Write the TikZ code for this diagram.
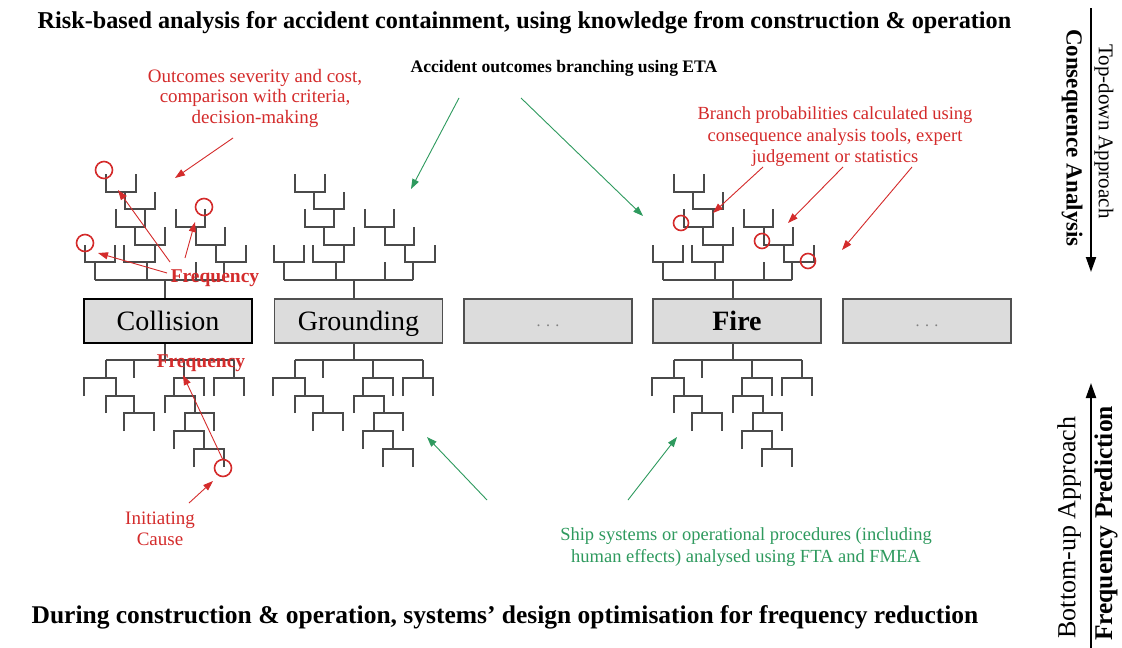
\documentclass[tikz,border=0pt]{standalone}
\usepackage{fontspec}
\setmainfont{Liberation Serif}
\usetikzlibrary{arrows.meta}
\definecolor{annred}{HTML}{D42B2B}
\definecolor{anngreen}{HTML}{2E9A5E}
\definecolor{treegray}{HTML}{4A4A4A}
\definecolor{boxfill}{HTML}{DCDCDC}
\definecolor{boxline}{HTML}{505050}
\tikzset{
  branch/.style={draw=treegray, line width=1.5pt},
  eventbox/.style={draw=boxline, fill=boxfill, line width=1.5pt, minimum width=168pt, minimum height=44pt, inner sep=0pt, text height=20pt, text depth=2pt, font=\fontsize{28}{30}\selectfont},
  dotsbox/.style={eventbox, text=gray, text height=10pt, text depth=0pt, font=\fontsize{16}{19}\selectfont},
  hilite/.style={draw=annred, line width=1.6pt},
  redarrow/.style={draw=annred, line width=0.9pt, -{Triangle[length=10pt,width=7pt]}},
  greenarrow/.style={draw=anngreen, line width=0.9pt, -{Triangle[length=10pt,width=7pt]}},
  vertarrow/.style={draw=black, line width=2pt, -{Triangle[length=15pt,width=10pt]}},
  redtext/.style={text=annred, font=\fontsize{18.5}{21}\selectfont, align=center, inner sep=0pt},
  greentext/.style={text=anngreen, font=\fontsize{18.5}{22}\selectfont, align=center, inner sep=0pt},
  freqtext/.style={text=annred, font=\bfseries\fontsize{19.5}{22}\selectfont, inner sep=0pt, anchor=base},
  headline/.style={font=\bfseries\fontsize{24.2}{28}\selectfont, inner sep=0pt, anchor=base},
}
\newcommand\TopTree[1]{%
\begin{scope}[shift={(#1,0)}]
\draw[branch] (0,299) -- (0,280) (-70,280) -- (59,280)
  (-70,280) -- (-70,262) (-80,245) -- (-80,262) -- (-50,262) -- (-50,245)
  (-18,280) -- (-18,262) (-41,245) -- (-41,262) -- (-10,262) -- (-10,245)
  (-30,227) -- (-30,245) -- (0,245) -- (0,227)
  (-49,209) -- (-49,227) -- (-20,227) -- (-20,209)
  (-40,192) -- (-40,209) -- (-10,209) -- (-10,192)
  (-59,174) -- (-59,192) -- (-29,192) -- (-29,174)
  (31,280) -- (31,262)
  (59,280) -- (59,262) (51,245) -- (51,262) -- (81,262) -- (81,245)
  (31,227) -- (31,245) -- (60,245) -- (60,227)
  (11,209) -- (11,227) -- (40,227) -- (40,209);
\end{scope}}
\newcommand\BottomTree[1]{%
\begin{scope}[shift={(#1,0)}]
\draw[branch] (0,343) -- (0,360) (-59,360) -- (69,360)
  (-59,360) -- (-59,378) (-81,396) -- (-81,378) -- (-49,378) -- (-49,396)
  (-59,413) -- (-59,396) -- (-31,396) -- (-31,413)
  (-41,431) -- (-41,413) -- (-11,413) -- (-11,431)
  (-31,360) -- (-31,378)
  (19,360) -- (19,378) (9,396) -- (9,378) -- (39,378) -- (39,396)
  (0,413) -- (0,396) -- (30,396) -- (30,413)
  (20,431) -- (20,413) -- (49,413) -- (49,431)
  (9,449) -- (9,431) -- (39,431) -- (39,449)
  (29,467) -- (29,449) -- (59,449) -- (59,467)
  (69,360) -- (69,378) (49,396) -- (49,378) -- (79,378) -- (79,396);
\end{scope}}
\begin{document}
\begin{tikzpicture}[x=1pt,y=-1pt]
\useasboundingbox (0,0) rectangle (1122,648);
\fill[white] (0,0) rectangle (1122,648);

% event trees
\TopTree{165}\TopTree{354}\TopTree{733}
\BottomTree{165}\BottomTree{354}\BottomTree{733}

% accident boxes
\node[eventbox, draw=black, line width=2.5pt] (collision) at (168,321) {Collision};
\node[eventbox] (grounding) at (358.5,321) {Grounding};
\node[dotsbox] (dotsA) at (548,321) {. . .};
\node[eventbox, font=\bfseries\fontsize{28}{30}\selectfont] (fire) at (737,321) {Fire};
\node[dotsbox] (dotsB) at (927,321) {. . .};

% highlighted outcomes
\draw[hilite] (104,170) circle[radius=8.5];
\draw[hilite] (85,243) circle[radius=8.5];
\draw[hilite] (204,207) circle[radius=8.5];
\draw[hilite] (223,468) circle[radius=8.5];
\draw[hilite] (681,223) circle[radius=7.5];
\draw[hilite] (762,241) circle[radius=7.5];
\draw[hilite] (808,261) circle[radius=7.5];

% texts
\node[headline] (title) at (524.5,28) {Risk-based analysis for accident containment, using knowledge from construction \& operation};
\node[headline, font=\bfseries\fontsize{25.5}{28}\selectfont] (footer) at (505,623) {During construction \& operation, systems' design optimisation for frequency reduction};
\node[font=\bfseries\fontsize{17.6}{20}\selectfont, inner sep=0pt, anchor=base] (eta) at (564,72) {Accident outcomes branching using ETA};
\node[redtext, font=\fontsize{19}{20.5}\selectfont] (outcomes) at (255,98) {Outcomes severity and cost,\\comparison with criteria,\\decision-making};
\node[redtext, font=\fontsize{18.5}{21.5}\selectfont] (branchprob) at (835,137) {Branch probabilities calculated using\\consequence analysis tools, expert\\judgement or statistics};
\node[greentext] (shipsys) at (746,547) {Ship systems or operational procedures (including\\human effects) analysed using FTA and FMEA};
\node[redtext, font=\fontsize{19}{21}\selectfont] (initcause) at (160,529) {Initiating\\Cause};
\node[freqtext] (freqtop) at (215,282) {Frequency};
\node[freqtext] (freqbot) at (201,367) {Frequency};

% side labels
\node[rotate=-90, font=\fontsize{21}{24}\selectfont, inner sep=0pt] (topdown) at (1104,131.5) {Top-down Approach};
\node[rotate=-90, font=\bfseries\fontsize{23}{26}\selectfont, inner sep=0pt] (conseq) at (1072,138) {Consequence Analysis};
\node[rotate=90, font=\fontsize{26}{29}\selectfont, inner sep=0pt] (bottomup) at (1069,527.5) {Bottom-up Approach};
\node[rotate=90, font=\bfseries\fontsize{25.5}{28}\selectfont, inner sep=0pt] (freqpred) at (1106,523.5) {Frequency Prediction};
\coordinate (tdtop) at (1091,8);
\coordinate (tdtip) at (1091,272);
\coordinate (bubot) at (1091,648);
\coordinate (butip) at (1091,383);
\draw[vertarrow] (tdtop) -- (tdtip);
\draw[vertarrow] (bubot) -- (butip);

% red arrows
\coordinate (oTail) at (233,138); \coordinate (oHead) at (175,178);
\draw[redarrow] (oTail) -- (oHead);
\coordinate (f1Tail) at (170,262); \coordinate (f1Head) at (118,190);
\coordinate (f2Tail) at (185,258); \coordinate (f2Head) at (195,222);
\coordinate (f3Tail) at (167,273); \coordinate (f3Head) at (98,253);
\draw[redarrow] (f1Tail) -- (f1Head);
\draw[redarrow] (f2Tail) -- (f2Head);
\draw[redarrow] (f3Tail) -- (f3Head);
\coordinate (f4Tail) at (223,460); \coordinate (f4Head) at (183,375);
\draw[redarrow] (f4Tail) -- (f4Head);
\coordinate (icTail) at (189,503); \coordinate (icHead) at (213,481);
\draw[redarrow] (icTail) -- (icHead);
\coordinate (b1Tail) at (763,167); \coordinate (b1Head) at (713,213);
\coordinate (b2Tail) at (843,167); \coordinate (b2Head) at (788,223);
\coordinate (b3Tail) at (912,167); \coordinate (b3Head) at (842,250);
\draw[redarrow] (b1Tail) -- (b1Head);
\draw[redarrow] (b2Tail) -- (b2Head);
\draw[redarrow] (b3Tail) -- (b3Head);

% green arrows
\coordinate (g1Tail) at (459,98); \coordinate (g1Head) at (411,189);
\coordinate (g2Tail) at (521,98); \coordinate (g2Head) at (643,216);
\coordinate (g3Tail) at (487,500); \coordinate (g3Head) at (427,437);
\coordinate (g4Tail) at (628,500); \coordinate (g4Head) at (677,437);
\draw[greenarrow] (g1Tail) -- (g1Head);
\draw[greenarrow] (g2Tail) -- (g2Head);
\draw[greenarrow] (g3Tail) -- (g3Head);
\draw[greenarrow] (g4Tail) -- (g4Head);
\end{tikzpicture}
\end{document}
